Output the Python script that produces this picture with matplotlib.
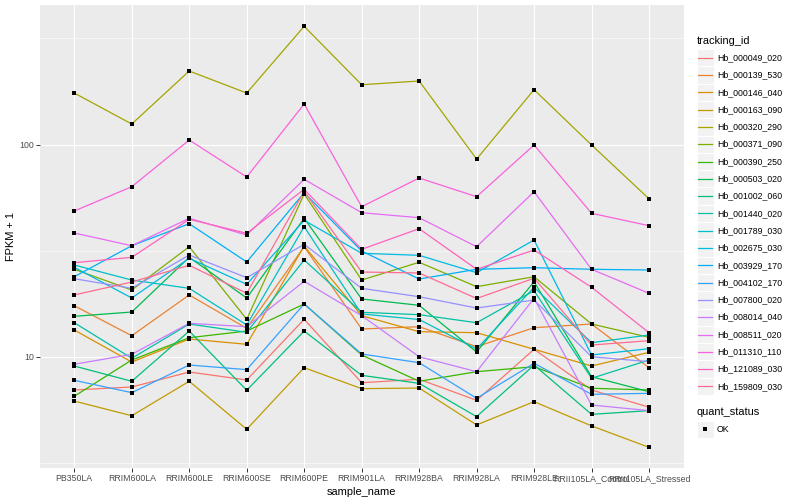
import numpy as np
import matplotlib
matplotlib.use("Agg")
import matplotlib.pyplot as plt
from matplotlib.patches import Rectangle
from matplotlib.ticker import NullFormatter, FixedLocator

# ---------------- data ----------------
samples = ["PB350LA", "RRIM600LA", "RRIM600LE", "RRIM600SE", "RRIM600PE",
           "RRIM901LA", "RRIM928BA", "RRIM928LA", "RRIM928LE",
           "RRII105LA_Control", "RRII105LA_Stressed"]

tracking_ids = ["Hb_000049_020", "Hb_000139_530", "Hb_000146_040", "Hb_000163_090",
                "Hb_000320_290", "Hb_000371_090", "Hb_000390_250", "Hb_000503_020",
                "Hb_001002_060", "Hb_001440_020", "Hb_001789_030", "Hb_002675_030",
                "Hb_003929_170", "Hb_004102_170", "Hb_007800_020", "Hb_008014_040",
                "Hb_008511_020", "Hb_011310_110", "Hb_121089_030", "Hb_159809_030"]

colors = ["#F8766D", "#EA8331", "#D89000", "#C09B00", "#A3A500", "#7CAE00", "#39B600",
          "#00BB4E", "#00BF7D", "#00C1A3", "#00BFC4", "#00BAE0", "#00B0F6", "#35A2FF",
          "#9590FF", "#C77CFF", "#E76BF3", "#FA62DB", "#FF62BC", "#FF6C91"]

Hb_000049_020 = [6.97, 7.20, 8.47, 7.77, 15.01, 7.54, 7.83, 6.23, 10.84, 6.97, 5.78]
Hb_000139_530 = [17.39, 12.56, 19.54, 13.61, 32.99, 13.51, 13.85, 11.15, 13.70, 14.26, 8.88]
Hb_000146_040 = [13.36, 9.44, 12.12, 11.44, 33.24, 15.61, 13.12, 12.98, 10.84, 9.04, 10.49]
Hb_000163_090 = [6.18, 5.27, 7.66, 4.55, 8.88, 7.07, 7.12, 4.77, 6.14, 4.72, 3.74]
Hb_000320_290 = [174.8, 124.9, 222.0, 174.8, 360.6, 191.3, 199.2, 85.4, 181.3, 99.5, 55.5]
Hb_000371_090 = [25.82, 20.62, 32.99, 15.01, 58.44, 22.98, 27.86, 21.38, 23.82, 14.26, 12.34]
Hb_000390_250 = [6.51, 9.65, 12.29, 13.21, 17.72, 10.19, 7.66, 8.50, 8.97, 7.10, 6.97]
Hb_000503_020 = [15.50, 16.24, 29.40, 18.91, 44.89, 18.71, 17.47, 10.52, 22.56, 8.05, 6.84]
Hb_001002_060 = [9.04, 7.66, 13.21, 6.95, 13.21, 8.17, 7.49, 5.22, 9.14, 5.35, 5.57]
Hb_001440_020 = [14.46, 9.83, 14.26, 13.03, 28.56, 16.19, 15.78, 14.46, 20.47, 7.91, 9.65]
Hb_001789_030 = [27.05, 22.98, 21.00, 14.11, 40.98, 15.90, 14.97, 10.87, 21.24, 11.64, 12.66]
Hb_002675_030 = [26.38, 18.91, 29.09, 21.93, 43.93, 30.71, 30.05, 24.88, 35.48, 10.19, 10.91]
Hb_003929_170 = [23.82, 33.35, 42.35, 27.95, 59.28, 31.49, 23.23, 25.82, 26.27, 25.82, 25.62]
Hb_004102_170 = [7.74, 6.77, 9.14, 8.69, 17.72, 10.30, 9.37, 6.37, 9.31, 6.65, 6.72]
Hb_007800_020 = [23.31, 21.00, 30.15, 23.57, 33.86, 21.00, 19.17, 16.96, 18.50, 10.00, 9.47]
Hb_008014_040 = [9.21, 10.26, 14.37, 13.85, 22.66, 15.61, 10.00, 8.50, 18.85, 5.92, 5.57]
Hb_008511_020 = [38.27, 33.35, 44.89, 37.45, 68.55, 47.71, 45.19, 32.99, 59.93, 25.82, 19.90]
Hb_011310_110 = [48.60, 63.25, 105.0, 70.28, 155.2, 50.92, 69.52, 56.75, 99.5, 47.40, 41.44]
Hb_121089_030 = [27.73, 29.40, 44.41, 38.15, 61.51, 32.07, 40.11, 25.82, 31.83, 21.24, 12.98]
Hb_159809_030 = [19.54, 22.49, 26.96, 19.90, 60.19, 25.07, 24.80, 18.81, 23.42, 11.35, 11.90]

series = [Hb_000049_020, Hb_000139_530, Hb_000146_040, Hb_000163_090, Hb_000320_290,
          Hb_000371_090, Hb_000390_250, Hb_000503_020, Hb_001002_060, Hb_001440_020,
          Hb_001789_030, Hb_002675_030, Hb_003929_170, Hb_004102_170, Hb_007800_020,
          Hb_008014_040, Hb_008511_020, Hb_011310_110, Hb_121089_030, Hb_159809_030]

quant_status = ["OK"]

# ---------------- figure ----------------
FONT = ["Liberation Sans", "DejaVu Sans"]
plt.rcParams["font.family"] = FONT

W, H = 800, 500
fig = plt.figure(figsize=(8, 5), dpi=100)
fig.patch.set_facecolor("white")

px_left, px_right, px_top, px_bottom = 39.8, 683.5, 5.25, 468.4
ax = fig.add_axes([px_left / W, 1 - px_bottom / H,
                   (px_right - px_left) / W, (px_bottom - px_top) / H])
ax.set_facecolor("#EBEBEB")
for s in ax.spines.values():
    s.set_visible(False)

x = np.arange(len(samples))
for vals, col in zip(series, colors):
    ax.plot(x, vals, color=col, lw=0.9, zorder=3, solid_capstyle="butt")
for vals in series:
    ax.scatter(x, vals, marker="s", s=7, color="black", zorder=4, linewidths=0)

ax.set_yscale("log")
allv = np.log10(np.concatenate([np.asarray(v, float) for v in series]))
lo, hi = allv.min(), allv.max()
pad = 0.05 * (hi - lo)
ax.set_ylim(10 ** (lo - pad), 10 ** (hi + pad))
ax.set_xlim(-0.6, len(samples) - 0.4)

ax.yaxis.set_major_locator(FixedLocator([10, 100]))
ax.yaxis.set_minor_locator(FixedLocator([10 ** 0.5, 10 ** 1.5, 10 ** 2.5]))
ax.set_yticklabels(["10", "100"])
ax.yaxis.set_minor_formatter(NullFormatter())
ax.set_xticks(x)
ax.set_xticklabels(samples)

ax.grid(which="major", color="white", lw=0.8, zorder=1)
ax.grid(which="minor", axis="y", color="white", lw=0.4, zorder=1)
ax.set_axisbelow(True)

ax.tick_params(which="major", length=2.6, width=0.7, color="#333333",
               labelcolor="#4D4D4D", labelsize=6.3, pad=1.6)
ax.tick_params(which="minor", length=0)

ax.set_xlabel("sample_name", fontsize=7.9, color="black", labelpad=2.5)
ax.set_ylabel("FPKM + 1", fontsize=7.9, color="black", labelpad=2)

# ---------------- legend (drawn in pixel space) ----------------
lax = fig.add_axes([0, 0, 1, 1], facecolor="none")
lax.set_xlim(0, W)
lax.set_ylim(H, 0)
lax.axis("off")

kx, kw = 696.5, 17.3
lax.text(kx, 40.7, "tracking_id", fontsize=7.9, va="center", ha="left", color="black")
for i, (tid, col) in enumerate(zip(tracking_ids, colors)):
    cy = 57.7 + 17.3 * i
    lax.add_patch(Rectangle((kx, cy - kw / 2), kw, kw, facecolor="#F2F2F2",
                            edgecolor="white", lw=0.8))
    lax.plot([kx + 1.7, kx + kw - 1.7], [cy, cy], color=col, lw=0.9)
    lax.text(717, cy, tid, fontsize=6.3, va="center", ha="left", color="black")

lax.text(kx, 412, "quant_status", fontsize=7.9, va="center", ha="left", color="black")
for j, q in enumerate(quant_status):
    cy = 429.3 + 17.3 * j
    lax.add_patch(Rectangle((kx, cy - kw / 2), kw, kw, facecolor="#F2F2F2",
                            edgecolor="white", lw=0.8))
    lax.scatter([kx + kw / 2], [cy], marker="s", s=7, color="black", linewidths=0)
    lax.text(717, cy, q, fontsize=6.3, va="center", ha="left", color="black")

fig.savefig("out.png", dpi=100, facecolor="white")
